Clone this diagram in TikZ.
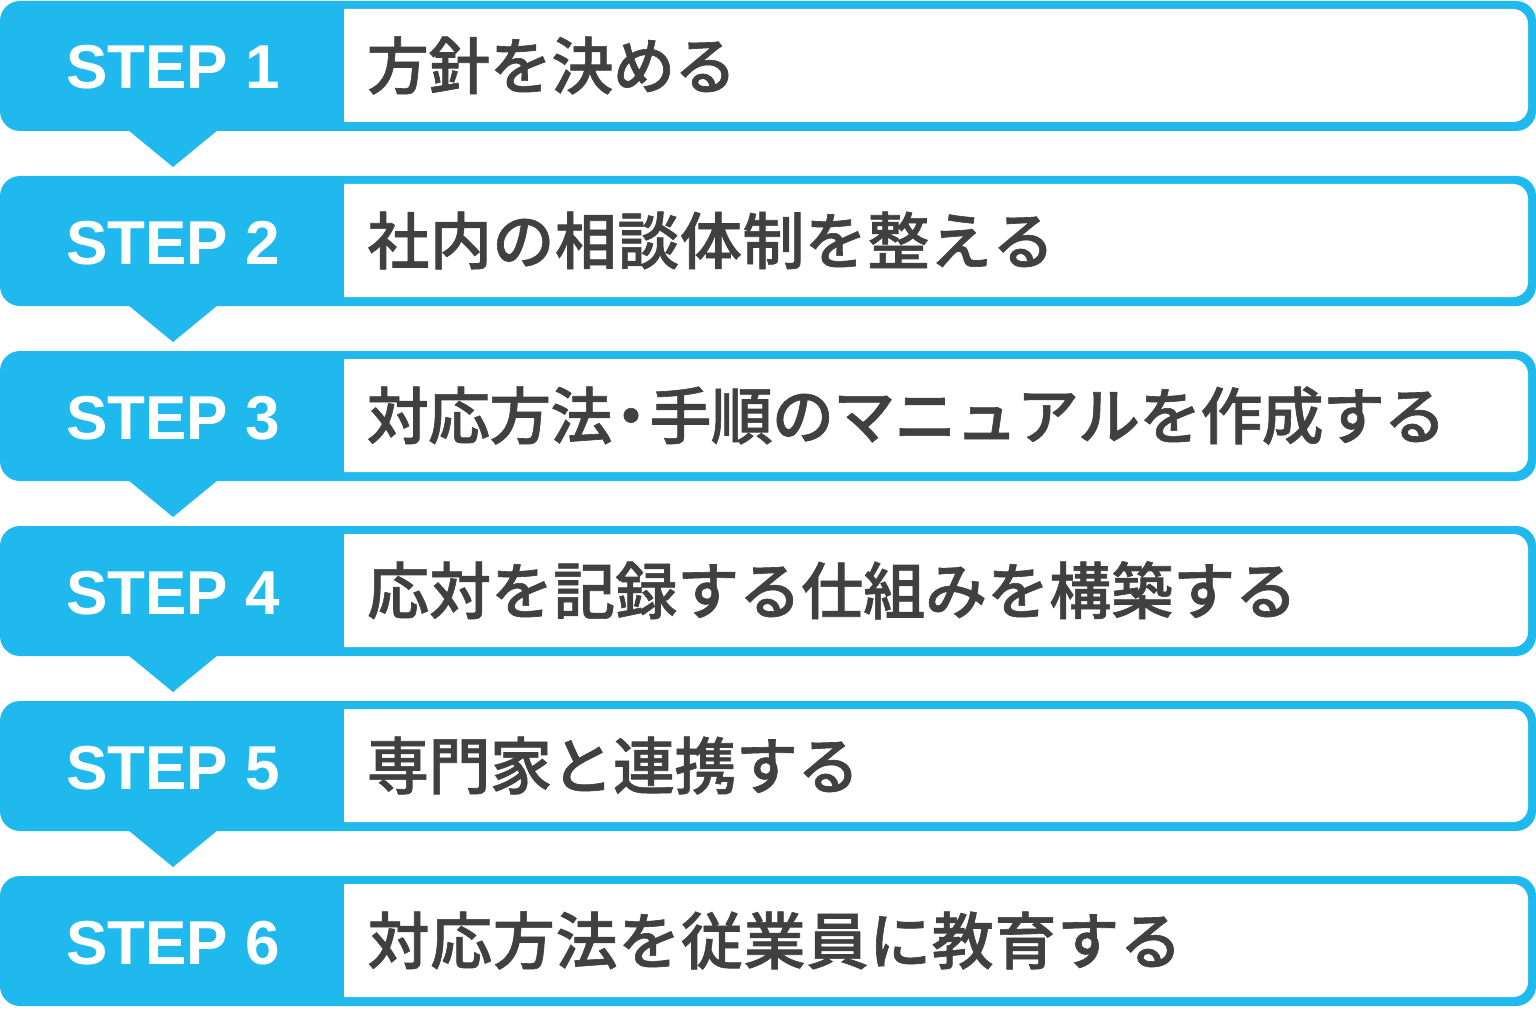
\documentclass[tikz,border=0pt]{standalone}
\usepackage{fontspec}
\setmainfont{Liberation Sans}
\newfontfamily\jp{Noto Sans CJK JP Medium}[FakeBold=1]
\definecolor{stepblue}{HTML}{20B9EE}
\definecolor{txtgray}{HTML}{404040}
\makeatletter
\def\jdot{・}
\def\sp@end{\sp@end}
\newcommand\spreadtxt[2]{\def\sp@w{#1}\edef\sp@list{#2}\expandafter\sp@loop\sp@list\sp@end}
\def\sp@loop#1{\ifx#1\sp@end\else\sp@one{#1}\expandafter\sp@loop\fi}
\def\sp@one#1{\def\sp@tmp{#1}\ifx\sp@tmp\jdot\makebox[38pt][c]{#1}\else\makebox[\sp@w][c]{#1}\fi}
\makeatother
\begin{document}
\begin{tikzpicture}[x=1pt,y=-1pt,
  outerbox/.style={fill=stepblue, rounded corners=20pt},
  innerbox/.style={fill=white},
  steplabel/.style={font=\fontsize{62}{62}\selectfont\bfseries, text=white, anchor=base, inner sep=0pt},
  steptext/.style={font=\jp\fontsize{62}{62}\selectfont, text=txtgray, anchor=base west, inner sep=0pt},
  pointer/.style={fill=stepblue}]
\useasboundingbox (0,0) rectangle (1536,1019);
\foreach \p/\t [count=\i] in {61.5/方針を決める,62.5/社内の相談体制を整える,61.2/対応方法・手順のマニュアルを作成する,62/応対を記録する仕組みを構築する,61.5/専門家と連携する,62.7/対応方法を従業員に教育する}{
  \pgfmathsetmacro\T{1+175*(\i-1)}
  \fill[outerbox] (0,\T) rectangle (1536,\T+130);
  \fill[innerbox] (344,\T+8) -- (1513,\T+8)
     arc[start angle=-90,end angle=0,radius=15] -- (1528,\T+106)
     arc[start angle=0,end angle=90,radius=15] -- (344,\T+121) -- cycle;
  \node[steplabel] (s\i) at (173,\T+88) {STEP \i};
  \node[steptext] (t\i) at (367,\T+88) {\spreadtxt{\p pt}{\t}};
  \ifnum\i<6
    \fill[pointer] (128,\T+129) -- (218,\T+129) -- (173,\T+166) -- cycle;
  \fi
}
\end{tikzpicture}
\end{document}
